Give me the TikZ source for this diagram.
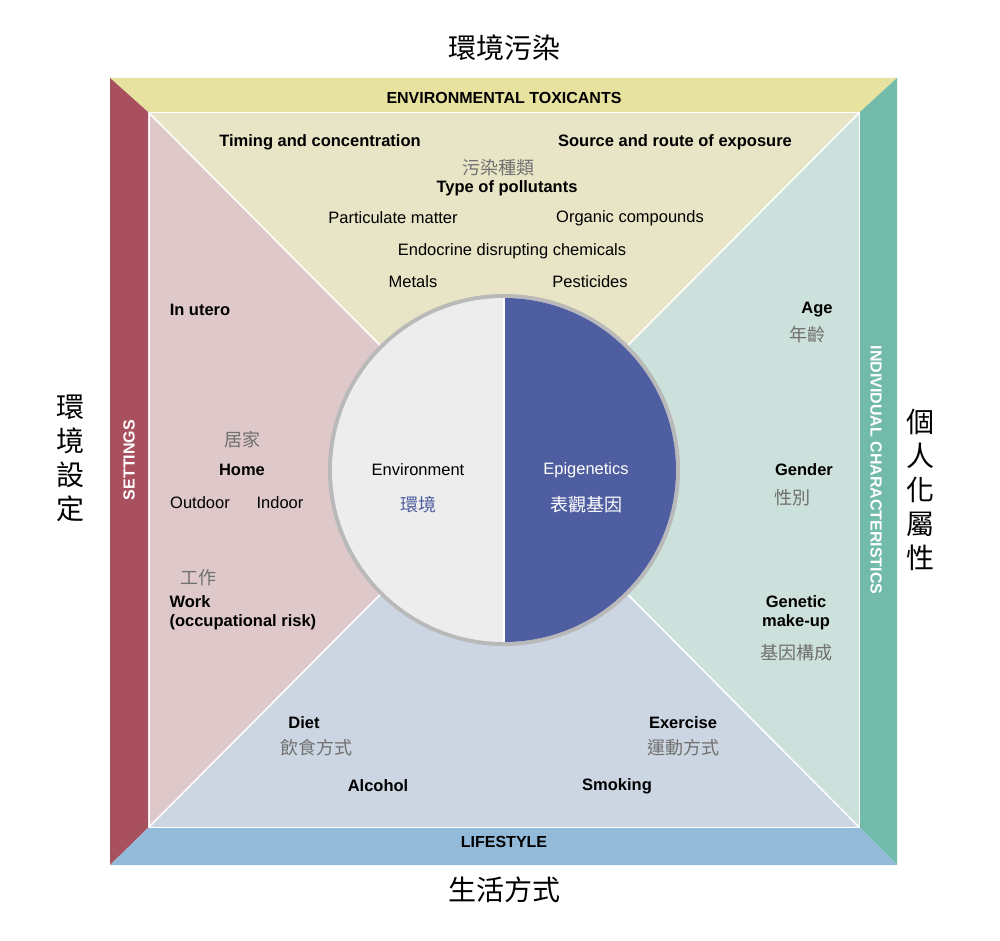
\documentclass[tikz,border=0pt]{standalone}
\usepackage{fontspec}
\setmainfont{Liberation Sans}
\newfontfamily\cjk{Noto Sans CJK TC}
\definecolor{bandtop}{HTML}{E8E2A0}
\definecolor{bandleft}{HTML}{A8505E}
\definecolor{bandright}{HTML}{72BAAA}
\definecolor{bandbottom}{HTML}{94BADA}
\definecolor{paneltop}{HTML}{E8E4C6}
\definecolor{panelleft}{HTML}{DEC8CA}
\definecolor{panelright}{HTML}{CCE0DC}
\definecolor{panelbottom}{HTML}{CCD6E2}
\definecolor{epiblue}{HTML}{4F5EA0}
\definecolor{cjkgray}{HTML}{707070}
\tikzset{
  lbl/.style={font=\fontsize{16.5}{19}\selectfont, align=center},
  bold lbl/.style={lbl, font=\fontsize{16.5}{19}\selectfont\bfseries},
  zh/.style={font=\fontsize{18}{21}\selectfont\cjk, text=cjkgray},
  big zh/.style={font=\fontsize{28}{34}\selectfont\cjk},
  band lbl/.style={font=\fontsize{16}{18}\selectfont\bfseries}
}
\begin{document}
\begin{tikzpicture}[x=1pt,y=-1pt]
  \useasboundingbox (0,0) rectangle (1000,941);

  % panels
  \fill[paneltop] (148,112) -- (860,112) -- (504,470) -- cycle;
  \fill[panelleft] (148,112) -- (504,470) -- (148,828) -- cycle;
  \fill[panelright] (860,112) -- (860,828) -- (504,470) -- cycle;
  \fill[panelbottom] (148,828) -- (504,470) -- (860,828) -- cycle;
  \draw[white, line width=1.5] (148,112) -- (860,828) (860,112) -- (148,828);
  \draw[white, line width=3] (148,112) rectangle (860,828);

  % bands
  \fill[bandtop] (110,78) -- (897,78) -- (860,112) -- (148,112) -- cycle;
  \fill[bandleft] (110,78) -- (148,112) -- (148,828) -- (110,865) -- cycle;
  \fill[bandright] (897,78) -- (897,865) -- (860,828) -- (860,112) -- cycle;
  \fill[bandbottom] (110,865) -- (148,828) -- (860,828) -- (897,865) -- cycle;

  \node[band lbl] (toxicants) at (504,98) {ENVIRONMENTAL TOXICANTS};
  \node[band lbl, text=white, rotate=90] (settings) at (129,460) {SETTINGS};
  \node[band lbl, text=white, rotate=-90] (individual) at (876,470) {INDIVIDUAL CHARACTERISTICS};
  \node[band lbl] (lifestyle) at (504,842) {LIFESTYLE};

  % outside titles
  \node[big zh] (t1) at (504,48) {環境污染};
  \node[big zh] (t2) at (504,890) {生活方式};
  \node[big zh, align=center, text width=30pt] (t3) at (70,458) {環\\境\\設\\定};
  \node[big zh, align=center, text width=30pt] (t4) at (920,490) {個\\人\\化\\屬\\性};

  % circle
  \fill[gray!55] (504,470) circle (176);
  \fill[black!7] (504,470) circle (172);
  \fill[epiblue] (504,298) arc (-90:90:172) -- cycle;
  \draw[white, line width=1.5] (504,298) -- (504,642);

  \node[lbl] (environment) at (418,470) {Environment};
  \node[zh, text=epiblue] (environmentzh) at (418,505) {環境};
  \node[lbl, text=white] (epigenetics) at (586,470) {Epigenetics};
  \node[zh, text=white] (epigeneticszh) at (586,505) {表觀基因};

  % top panel
  \node[bold lbl] (timing) at (320,142) {Timing and concentration};
  \node[bold lbl] (source) at (675,142) {Source and route of exposure};
  \node[zh] (typezh) at (498,168) {污染種類};
  \node[bold lbl] (type) at (507,188) {Type of pollutants};
  \node[lbl] (particulate) at (393,218) {Particulate matter};
  \node[lbl] (organic) at (630,218) {Organic compounds};
  \node[lbl] (endocrine) at (512,251) {Endocrine disrupting chemicals};
  \node[lbl] (metals) at (413,282) {Metals};
  \node[lbl] (pesticides) at (590,282) {Pesticides};

  % left panel
  \node[bold lbl] (utero) at (200,310) {In utero};
  \node[zh] (homezh) at (242,440) {居家};
  \node[bold lbl] (home) at (242,470) {Home};
  \node[lbl] (outdoor) at (200,503) {Outdoor};
  \node[lbl] (indoor) at (280,503) {Indoor};
  \node[zh] (workzh) at (198,578) {工作};
  \node[bold lbl, align=left, anchor=west] (work) at (166,613) {Work\\(occupational risk)};

  % right panel
  \node[bold lbl] (age) at (817,310) {Age};
  \node[zh] (agezh) at (807,335) {年齡};
  \node[bold lbl] (gender) at (804,470) {Gender};
  \node[zh] (genderzh) at (792,498) {性別};
  \node[bold lbl] (genetic) at (796,613) {Genetic\\make-up};
  \node[zh] (geneticzh) at (796,653) {基因構成};

  % bottom panel
  \node[bold lbl] (diet) at (304,723) {Diet};
  \node[zh] (dietzh) at (316,748) {飲食方式};
  \node[bold lbl] (alcohol) at (378,786) {Alcohol};
  \node[bold lbl] (exercise) at (683,723) {Exercise};
  \node[zh] (exercisezh) at (683,748) {運動方式};
  \node[bold lbl] (smoking) at (617,786) {Smoking};
\end{tikzpicture}
\end{document}
